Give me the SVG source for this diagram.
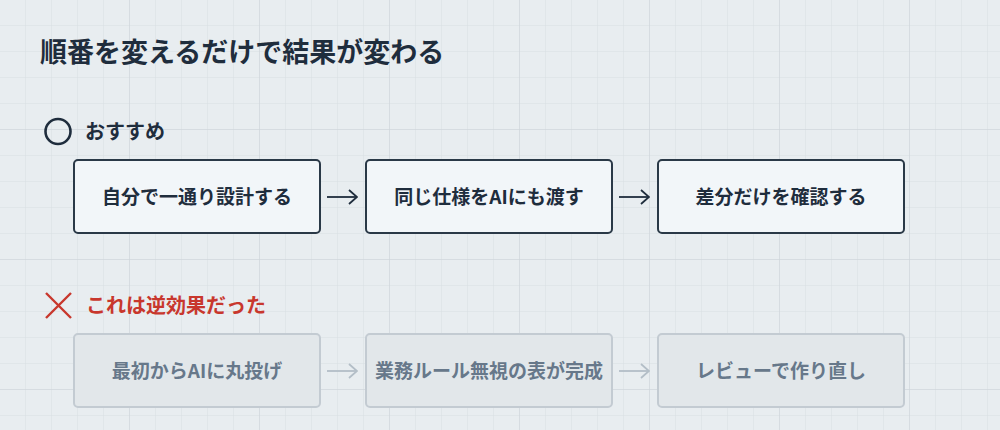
<svg xmlns="http://www.w3.org/2000/svg" width="1000" height="430" viewBox="0 0 1000 430">
  <defs>
    <pattern id="minor" width="26" height="26" patternUnits="userSpaceOnUse">
      <path d="M26 0V26M0 26H26" fill="none" stroke="#d9dfe3" stroke-width="1"/>
    </pattern>
    <pattern id="major" width="130" height="130" patternUnits="userSpaceOnUse">
      <path d="M130 0V130M0 130H130" fill="none" stroke="#cdd3d8" stroke-width="1"/>
    </pattern>
    <marker id="ahDark" viewBox="0 0 10 16" refX="9" refY="8" markerWidth="10" markerHeight="16" markerUnits="userSpaceOnUse" orient="auto">
      <path d="M1 1L9 8L1 15" fill="none" stroke="#1f2d3d" stroke-width="1.8"/>
    </marker>
    <marker id="ahLight" viewBox="0 0 10 16" refX="9" refY="8" markerWidth="10" markerHeight="16" markerUnits="userSpaceOnUse" orient="auto">
      <path d="M1 1L9 8L1 15" fill="none" stroke="#b3bec7" stroke-width="1.8"/>
    </marker>
  </defs>
  <style>
    text { font-family: "Noto Sans CJK JP", "Noto Sans", sans-serif; font-weight: 700; }
    .title { font-size: 27px; fill: #1f2d3d; }
    .sec { font-size: 20px; }
    .good rect { fill: #f2f6f9; stroke: #2a3947; stroke-width: 2; }
    .good text { font-size: 19px; fill: #1f2d3d; text-anchor: middle; }
    .bad rect { fill: #e2e7ea; stroke: #c3cbd2; stroke-width: 2; }
    .bad text { font-size: 19px; fill: #67788a; text-anchor: middle; }
    .cd { stroke: #1f2d3d; stroke-width: 1.8; fill: none; marker-end: url(#ahDark); }
    .cl { stroke: #b3bec7; stroke-width: 1.8; fill: none; marker-end: url(#ahLight); }
  </style>
  <rect width="1000" height="430" fill="#e8edf0"/>
  <rect width="1000" height="430" fill="url(#minor)"/>
  <rect width="1000" height="430" fill="url(#major)"/>

  <text class="title" x="40" y="62">順番を変えるだけで結果が変わる</text>

  <g id="label-good">
    <circle cx="58" cy="131.5" r="12.5" fill="none" stroke="#1f2d3d" stroke-width="2.6"/>
    <text class="sec" x="85" y="139" fill="#1f2d3d">おすすめ</text>
  </g>
  <g id="label-bad">
    <path d="M46 293L71 318M71 293L46 318" stroke="#c8372d" stroke-width="2.4" fill="none"/>
    <text class="sec" x="86" y="313" fill="#c8372d">これは逆効果だった</text>
  </g>

  <g id="good1" class="good"><rect x="74" y="160" width="246" height="73" rx="4"/><text x="197" y="203.5">自分で一通り設計する</text></g>
  <g id="good2" class="good"><rect x="366" y="160" width="246" height="73" rx="4"/><text x="489" y="203.5">同じ仕様をAIにも渡す</text></g>
  <g id="good3" class="good"><rect x="658" y="160" width="246" height="73" rx="4"/><text x="781" y="203.5">差分だけを確認する</text></g>

  <g id="bad1" class="bad"><rect x="74" y="334" width="246" height="73" rx="4"/><text x="197" y="377.5">最初からAIに丸投げ</text></g>
  <g id="bad2" class="bad"><rect x="366" y="334" width="246" height="73" rx="4"/><text x="489" y="377.5">業務ルール無視の表が完成</text></g>
  <g id="bad3" class="bad"><rect x="658" y="334" width="246" height="73" rx="4"/><text x="781" y="377.5">レビューで作り直し</text></g>

  <g id="connectors">
    <line class="cd" x1="327" y1="197" x2="357" y2="197"/>
    <line class="cd" x1="619" y1="197" x2="649" y2="197"/>
    <line class="cl" x1="327" y1="371" x2="357" y2="371"/>
    <line class="cl" x1="619" y1="371" x2="649" y2="371"/>
  </g>
</svg>
